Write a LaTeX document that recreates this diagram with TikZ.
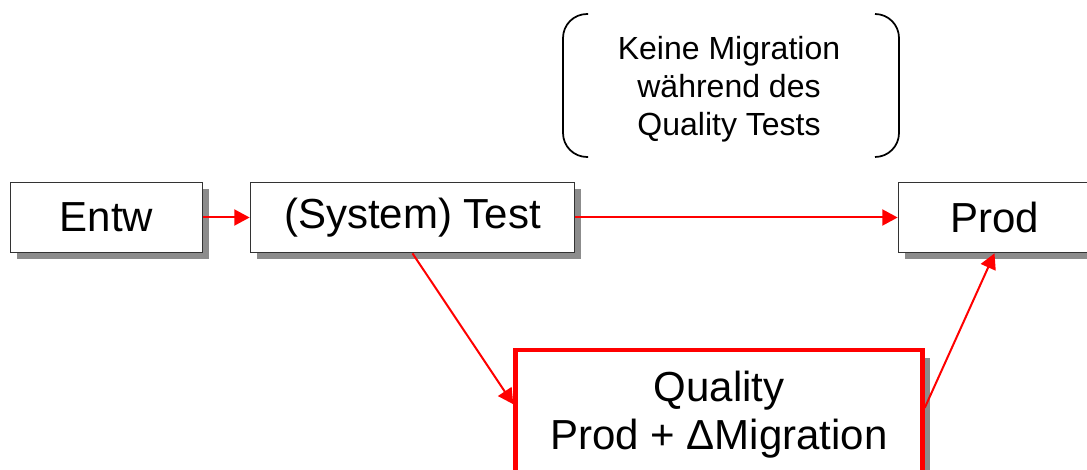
\documentclass[tikz,border=0pt]{standalone}
\usepackage{fontspec}
\setmainfont{Liberation Sans}
\usetikzlibrary{shadows,arrows.meta}
\begin{document}
\begin{tikzpicture}[x=0.75pt,y=-0.75pt,
  stagebox/.style={draw=black!80, line width=1.3pt, fill=white, inner sep=0pt,
    minimum height=52.5pt, font=\fontsize{31.5}{36}\selectfont,
    drop shadow={shadow xshift=5pt, shadow yshift=-5pt, fill=black!45, opacity=1}},
  qualbox/.style={draw=red, line width=3.6pt, fill=white, inner sep=0pt, align=center,
    minimum width=305pt, minimum height=97.5pt, font=\fontsize{31.5}{36}\selectfont,
    drop shadow={shadow xshift=6pt, shadow yshift=-6pt, fill=black!45, opacity=1}},
  flow/.style={draw=red, line width=1.5pt, -{Triangle[length=11.5pt,width=12pt]}},
  bracket/.style={draw=black, line width=1.3pt, rounded corners=18pt},
  notetext/.style={align=center, font=\fontsize{24}{28.5}\selectfont}]
\useasboundingbox (0,0) rectangle (1087,470);

% stages
\node[stagebox, minimum width=144pt] (entw) at (106.5,217.5) {Entw};
\node[stagebox, minimum width=243pt] (test) at (412.5,217.5) {(System) Test};
\node[stagebox, minimum width=144pt] (prod) at (994.5,217.5) {Prod};
\node[qualbox] (qual) at (719,415) {Quality\\Prod + ΔMigration};

% note in round brackets
\node[notetext] (note) at (729,89) {Keine Migration\\während des\\Quality Tests};
\draw[bracket] (588,14) -- (563,14) -- (563,157) -- (588,157);
\draw[bracket] (875,14) -- (899,14) -- (899,157) -- (875,157);

% transport paths
\draw[flow] (entw.east) -- (test.west);
\draw[flow] (test.east) -- (prod.west);
\draw[flow] (test.south) -- (qual.177.8);
\draw[flow] (qual.2) -- (prod.south);
\end{tikzpicture}
\end{document}
